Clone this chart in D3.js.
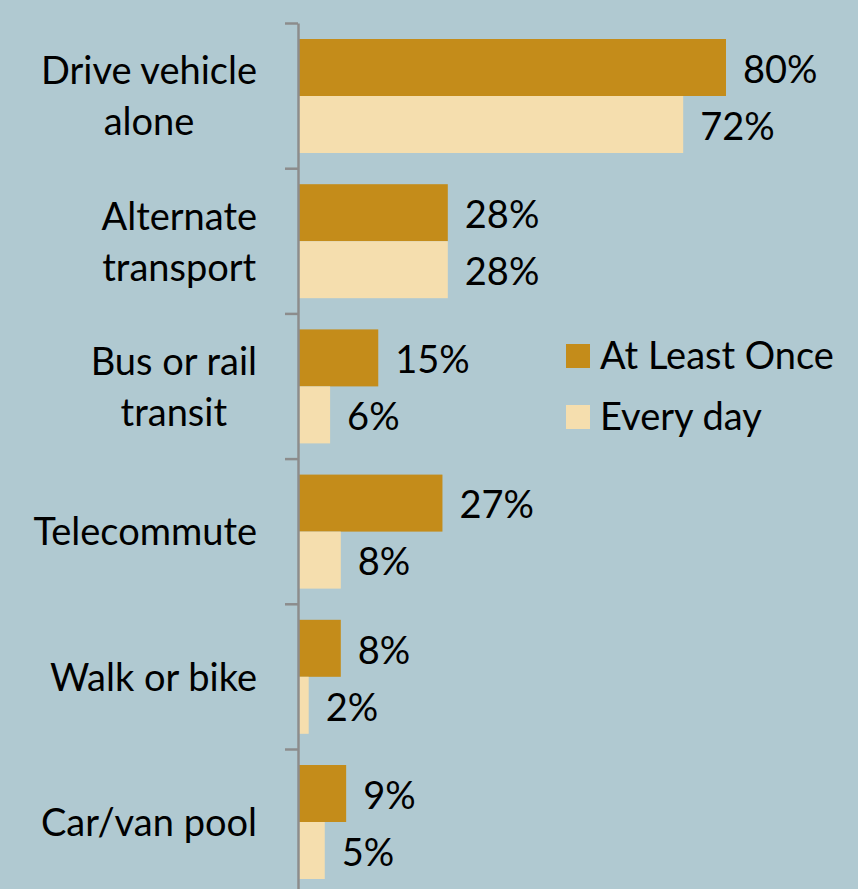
<!DOCTYPE html>
<html>
<head>
<meta charset="utf-8">
<script src="https://cdn.jsdelivr.net/npm/d3@7"></script>
<style>
  body { margin: 0; background: #b0c9d1; }
  svg { display: block; }
</style>
</head>
<body>
<div id="chart"></div>
<script>
// values
var categories = ["Drive vehicle alone", "Alternate transport", "Bus or rail transit", "Telecommute", "Walk or bike", "Car/van pool"];
var categoryLines = [["Drive vehicle", "alone"], ["Alternate", "transport"], ["Bus or rail", "transit"], ["Telecommute"], ["Walk or bike"], ["Car/van pool"]];
var seriesNames = ["At Least Once", "Every day"];
var atLeastOnce = [80, 28, 15, 27, 8, 9];
var everyDay = [72, 28, 6, 8, 2, 5];

var width = 858, height = 889;
var colors = ["#c48c1a", "#f5deae"];
var font = "Lato, 'Open Sans', sans-serif";
var fontSize = 38;

var svg = d3.select("#chart").append("svg")
  .attr("width", width)
  .attr("height", height)
  .style("background", "#b0c9d1");

var axisX = 298, topY = 23, step = 145.2;

var x = d3.scaleLinear().domain([0, 80]).range([axisX, 726]);
var y0 = d3.scaleBand().domain(categories).range([topY, topY + step * categories.length]);
var y1 = d3.scaleBand().domain(seriesNames).range([16, 130]);

var rows = categories.map(function(c, i) {
  return { cat: c, lines: categoryLines[i], vals: [atLeastOnce[i], everyDay[i]] };
});

// bars
var group = svg.append("g").selectAll("g")
  .data(rows)
  .enter().append("g")
  .attr("transform", function(d) { return "translate(0," + y0(d.cat) + ")"; });

group.selectAll("rect")
  .data(function(d) { return d.vals.map(function(v, j) { return { s: seriesNames[j], v: v, j: j }; }); })
  .enter().append("rect")
  .attr("x", x(0))
  .attr("y", function(d) { return y1(d.s); })
  .attr("width", function(d) { return x(d.v) - x(0); })
  .attr("height", y1.bandwidth())
  .attr("fill", function(d) { return colors[d.j]; });

group.selectAll("text.val")
  .data(function(d) { return d.vals.map(function(v, j) { return { s: seriesNames[j], v: v }; }); })
  .enter().append("text")
  .attr("class", "val")
  .attr("x", function(d) { return x(d.v) + 17; })
  .attr("y", function(d) { return y1(d.s) + y1.bandwidth() / 2 + 2; })
  .attr("dy", "0.35em")
  .style("font-family", font)
  .style("font-size", fontSize + "px")
  .attr("fill", "#000")
  .text(function(d) { return d.v + "%"; });

// axis with ticks on the band boundaries
var edges = d3.range(categories.length + 1);
var yEdge = d3.scaleLinear().domain([0, categories.length]).range([topY, topY + step * categories.length]);
var axis = svg.append("g")
  .attr("transform", "translate(" + axisX + ",0)")
  .call(d3.axisLeft(yEdge).tickValues(edges).tickSize(13).tickSizeOuter(0).tickFormat(""));
axis.selectAll("path, line").attr("stroke", "#8c8c8c").attr("stroke-width", 2.5);

// category labels, lines centred, block right-aligned
var labelRight = 257;
group.each(function(d) {
  var g = d3.select(this);
  var n = d.lines.length;
  var lineH = 51;
  var mid = step / 2 + 1;
  var t = g.append("text")
    .style("font-family", font)
    .style("font-size", fontSize + "px")
    .attr("fill", "#000")
    .attr("text-anchor", "middle");
  var spans = d.lines.map(function(l, k) {
    return t.append("tspan").attr("y", mid + (k - (n - 1) / 2) * lineH).attr("dy", "0.35em").text(l);
  });
  var maxW = d3.max(spans, function(s) { return s.node().getComputedTextLength(); });
  spans.forEach(function(s) { s.attr("x", labelRight - maxW / 2); });
});

// legend
var legend = svg.append("g").selectAll("g")
  .data(seriesNames)
  .enter().append("g")
  .attr("transform", function(d, i) { return "translate(566," + (344 + i * 61) + ")"; });
legend.append("rect").attr("width", 24).attr("height", 24)
  .attr("fill", function(d, i) { return colors[i]; });
legend.append("text")
  .attr("x", 34).attr("y", 12).attr("dy", "0.35em")
  .style("font-family", font)
  .style("font-size", fontSize + "px")
  .text(function(d) { return d; });
</script>
</body>
</html>
